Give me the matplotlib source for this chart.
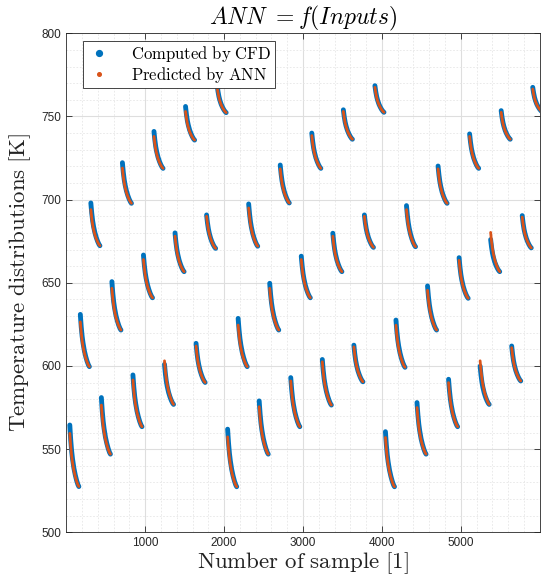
import numpy as np
import matplotlib
matplotlib.use("Agg")
import matplotlib.pyplot as plt
from matplotlib.lines import Line2D
from matplotlib.ticker import MultipleLocator

plt.rcParams['mathtext.fontset'] = 'cm'

# ---- data ----
n_total = 6000
n_segments = 45
seg_offset = 45      # first sample of each segment, relative to segment slot
seg_span = 115       # samples covered by each segment
cfd_top = [564.5, 631.0, 698.0, 581.0, 650.7, 722.2, 594.6, 666.7, 741.0, 601.0,
           680.0, 756.0, 613.6, 690.8, 769.0, 562.0, 628.6, 697.4, 579.0, 649.7,
           720.8, 593.0, 666.0, 740.0, 603.9, 679.8, 754.0, 612.5, 690.8, 768.5,
           560.5, 627.6, 696.4, 578.0, 648.1, 720.2, 592.0, 665.1, 739.5, 599.9,
           676.0, 753.5, 612.0, 690.4, 767.5]
ann_top = [559.5, 626.5, 694.0, 576.5, 646.7, 719.0, 591.6, 664.0, 738.0, 603.1,
           678.0, 753.0, 612.0, 690.0, 768.0, 557.4, 624.6, 695.0, 575.5, 646.7,
           718.5, 591.0, 664.0, 738.5, 602.5, 678.0, 753.0, 611.5, 690.0, 767.5,
           557.0, 624.5, 694.0, 575.0, 645.5, 718.5, 590.0, 663.5, 738.0, 603.1,
           680.3, 752.5, 611.0, 689.5, 766.5]
seg_bottom = [527.5, 599.6, 672.3, 547.0, 621.6, 697.8, 563.5, 641.0, 718.8, 576.9,
              656.7, 735.8, 590.1, 670.7, 752.3, 527.4, 599.6, 672.0, 547.0, 621.6,
              698.0, 563.5, 641.0, 718.8, 576.5, 656.7, 736.3, 590.5, 671.3, 752.5,
              527.4, 599.2, 671.7, 547.0, 621.6, 697.8, 563.5, 640.7, 718.8, 576.9,
              656.7, 736.3, 591.0, 671.0, 753.0]
# shape of one segment (fraction of segment length, fraction of drop)
profile_t = [0.0, 0.04, 0.10, 0.20, 0.30, 0.45, 0.60, 0.75, 0.90, 1.0]
profile_drop = [0.0, 0.10, 0.24, 0.42, 0.55, 0.70, 0.81, 0.90, 0.97, 1.0]
x_ticks = [1000, 2000, 3000, 4000, 5000]
y_ticks = [500, 550, 600, 650, 700, 750, 800]

blue = '#0072BD'
red = '#D95319'
axcol = '#262626'

fig = plt.figure(figsize=(5.41, 5.88), dpi=100)
ax = fig.add_axes([0.1226, 0.0947, 0.8750, 0.8487])

seg_len = n_total / n_segments
pt = np.array(profile_t)
pd_ = np.array(profile_drop)
for k in range(n_segments):
    x = seg_offset + k * seg_len + pt * seg_span
    yc = cfd_top[k] - (cfd_top[k] - seg_bottom[k]) * pd_
    ya = ann_top[k] - (ann_top[k] - seg_bottom[k]) * pd_
    ax.plot(x, yc, color=blue, lw=3.5, solid_capstyle='round',
            solid_joinstyle='round', zorder=3)
    ax.plot(x, ya, color=red, lw=2.0, solid_capstyle='round',
            solid_joinstyle='round', zorder=4)

ax.set_xlim(1, n_total)
ax.set_ylim(500, 800)
ax.set_xticks(x_ticks)
ax.set_yticks(y_ticks)
ax.xaxis.set_minor_locator(MultipleLocator(200))
ax.yaxis.set_minor_locator(MultipleLocator(10))
ax.grid(True, which='major', color='#dedede', lw=0.8, zorder=0)
ax.grid(True, which='minor', color='#e6e6e6', lw=0.6, ls=(0, (2, 2)), zorder=0)
ax.set_axisbelow(True)
ax.tick_params(which='both', direction='in', top=True, right=True, colors=axcol,
               labelsize=8.5)
ax.tick_params(which='major', length=4, width=0.6)
ax.tick_params(which='minor', length=0)
for lab in ax.get_xticklabels() + ax.get_yticklabels():
    lab.set_fontfamily('Liberation Sans')
for s in ax.spines.values():
    s.set_color(axcol)
    s.set_linewidth(0.6)

ax.set_title(r'$ANN\ = f(Inputs)$', fontsize=17, color='black', pad=4)
ax.set_xlabel(r'$\mathrm{Number\ of\ sample\ [1]}$', fontsize=16.5, color='#222222', labelpad=1)
ax.set_ylabel(r'$\mathrm{Temperature\ distributions\ [K]}$', fontsize=16.5, color='#222222', labelpad=6)

handles = [Line2D([], [], ls='none', marker='o', ms=4.2, color=blue, mec=blue),
           Line2D([], [], ls='none', marker='o', ms=2.6, color=red, mec=red)]
leg = ax.legend(handles, [r'$\mathrm{Computed\ by\ CFD}$', r'$\mathrm{Predicted\ by\ ANN}$'],
                loc='upper left', bbox_to_anchor=(0.035, 0.985), fontsize=12,
                frameon=True, fancybox=False, framealpha=1, edgecolor=axcol,
                borderpad=0.2, handletextpad=1.2, labelspacing=0.05, handlelength=1.5,
                borderaxespad=0)
leg.get_frame().set_linewidth(0.6)
leg.set_zorder(10)

fig.savefig('out.png', dpi=100)
